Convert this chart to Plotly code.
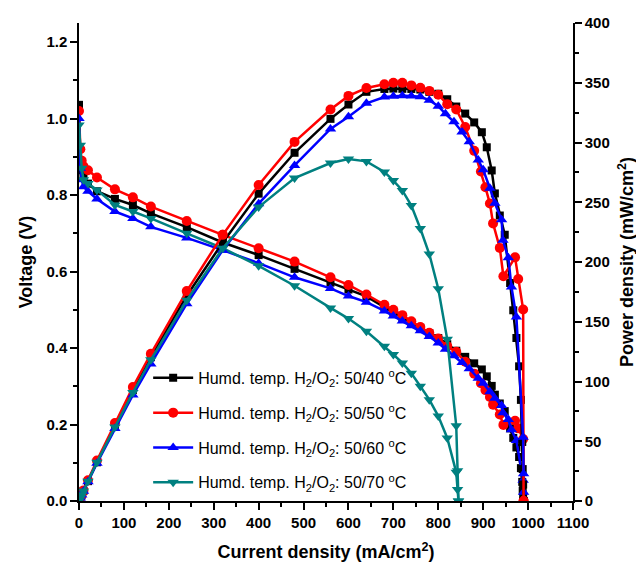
import plotly.graph_objects as go

# ---------------- data ----------------
labels = [
    "Humd. temp. H<sub>2</sub>/O<sub>2</sub>: 50/40 <sup>o</sup>C",
    "Humd. temp. H<sub>2</sub>/O<sub>2</sub>: 50/50 <sup>o</sup>C",
    "Humd. temp. H<sub>2</sub>/O<sub>2</sub>: 50/60 <sup>o</sup>C",
    "Humd. temp. H<sub>2</sub>/O<sub>2</sub>: 50/70 <sup>o</sup>C",
]

# 50/40 (black)
cur_40 = [0, 3, 6, 10, 20, 40, 80, 120, 160, 240, 320, 400, 480, 560, 600, 640, 680, 700, 720, 740,
          760, 780, 800, 820, 840, 860, 880, 897, 908, 919, 926, 937, 948, 960, 967, 974, 980, 984,
          987, 988, 989, 990]
volt_40 = [1.036, 0.88, 0.865, 0.85, 0.83, 0.81, 0.79, 0.774, 0.752, 0.716, 0.676, 0.643, 0.607, 0.571,
           0.553, 0.535, 0.507, 0.493, 0.479, 0.466, 0.453, 0.439, 0.426, 0.41, 0.393, 0.377, 0.36,
           0.344, 0.326, 0.301, 0.278, 0.255, 0.235, 0.19, 0.165, 0.14, 0.115, 0.086, 0.05, 0.027,
           0.014, 0.0]
pow_40 = [0, 2.6, 5.2, 8.5, 16.6, 32.4, 63.2, 92.9, 120.3, 171.8, 216.3, 257.2, 291.4, 319.8, 331.8,
          342.4, 344.8, 345.1, 344.9, 344.8, 344.3, 342.4, 340.8, 336.2, 330.1, 324.2, 316.8, 308.6,
          296.0, 276.6, 257.4, 238.9, 222.8, 182.4, 159.6, 136.4, 112.7, 84.6, 49.4, 26.7, 13.8, 0]

# 50/50 (red)
cur_50 = [0, 3, 6, 10, 20, 40, 80, 120, 160, 240, 320, 400, 480, 560, 600, 640, 680, 700, 720, 740,
          760, 780, 800, 820, 840, 860, 880, 895, 905, 915, 922, 937, 945, 971, 978, 989, 990]
volt_50 = [1.02, 0.92, 0.89, 0.875, 0.865, 0.846, 0.815, 0.794, 0.77, 0.732, 0.696, 0.661, 0.626, 0.585,
           0.565, 0.54, 0.513, 0.50, 0.486, 0.47, 0.455, 0.44, 0.425, 0.405, 0.39, 0.364, 0.333, 0.308,
           0.29, 0.272, 0.252, 0.226, 0.199, 0.21, 0.19, 0.162, 0.0]
pow_50 = [0, 2.8, 5.3, 8.8, 17.3, 33.8, 65.2, 95.3, 123.2, 175.7, 222.7, 264.4, 300.5, 327.6, 339.0,
          345.6, 348.8, 350.0, 349.9, 347.8, 345.8, 343.2, 340.0, 332.1, 327.6, 313.0, 293.0, 275.7,
          262.5, 248.9, 232.3, 211.8, 188.1, 203.9, 185.8, 160.2, 0]

# 50/60 (blue)
cur_60 = [0, 3, 6, 10, 20, 40, 80, 120, 160, 240, 320, 400, 480, 560, 600, 640, 680, 700, 720, 740,
          760, 780, 800, 816, 835, 853, 869, 889, 900, 915, 926, 941, 944, 956, 963, 974, 989, 990]
volt_60 = [1.0, 0.87, 0.84, 0.822, 0.81, 0.79, 0.757, 0.739, 0.717, 0.688, 0.656, 0.622, 0.585, 0.556,
           0.536, 0.52, 0.497, 0.484, 0.471, 0.458, 0.445, 0.43, 0.413, 0.397, 0.38, 0.362, 0.346,
           0.321, 0.308, 0.286, 0.269, 0.25, 0.231, 0.213, 0.186, 0.158, 0.054, 0.023]
pow_60 = [0, 2.6, 5.0, 8.2, 16.2, 31.6, 60.6, 88.7, 114.7, 165.1, 209.9, 248.8, 280.8, 311.4, 321.6,
          332.8, 338.0, 338.8, 339.1, 338.9, 338.2, 335.4, 330.4, 324.0, 317.3, 308.8, 300.7, 285.4,
          277.2, 261.7, 249.1, 235.3, 218.1, 203.6, 179.1, 153.9, 53.4, 22.8]

# 50/70 (teal)
cur_70 = [0, 3, 6, 10, 20, 40, 80, 120, 160, 240, 320, 400, 480, 560, 600, 640, 680, 700, 720, 740,
          760, 780, 800, 820, 840, 843, 845]
volt_70 = [0.983, 0.93, 0.87, 0.84, 0.83, 0.813, 0.774, 0.757, 0.739, 0.70, 0.661, 0.615, 0.563, 0.505,
           0.477, 0.444, 0.405, 0.383, 0.361, 0.334, 0.30, 0.265, 0.222, 0.165, 0.075, 0.03, 0.0]
pow_70 = [0, 2.8, 5.2, 8.4, 16.6, 32.5, 61.9, 90.8, 118.2, 168.0, 211.5, 246.0, 270.2, 282.8, 286.2,
          284.2, 275.4, 268.1, 259.9, 247.2, 228.0, 206.7, 177.6, 135.3, 63.0, 25.3, 0]

x_ticks = list(range(0, 1101, 100))
v_ticks = [0.0, 0.2, 0.4, 0.6, 0.8, 1.0, 1.2]
p_ticks = list(range(0, 401, 50))

# ---------------- styles ----------------
series = [
    (cur_40, volt_40, pow_40, "#000000", "square", 8),
    (cur_50, volt_50, pow_50, "#FF0000", "circle", 10),
    (cur_60, volt_60, pow_60, "#0000FF", "triangle-up", 10),
    (cur_70, volt_70, pow_70, "#008080", "triangle-down", 10),
]

FONT = "Liberation Sans, Arial, sans-serif"

fig = go.Figure()
for i, (c, v, p, col, sym, ms) in enumerate(series):
    fig.add_trace(go.Scatter(
        x=c, y=v, mode="lines+markers", name=labels[i], legendgroup=f"g{i}",
        line=dict(color=col, width=2.5),
        marker=dict(color=col, symbol=sym, size=ms),
        xaxis="x", yaxis="y",
    ))
for i, (c, v, p, col, sym, ms) in enumerate(series):
    fig.add_trace(go.Scatter(
        x=c, y=p, mode="lines+markers", name=labels[i], legendgroup=f"g{i}",
        showlegend=False,
        line=dict(color=col, width=2.5),
        marker=dict(color=col, symbol=sym, size=ms),
        xaxis="x", yaxis="y2",
    ))

tickfont = dict(family=FONT, size=15, color="black", weight="bold")
titlefont = dict(family=FONT, size=18, color="black", weight="bold")

# the page body adds an 8px offset, so the figure is 8px smaller each way
fig.update_layout(
    width=636, height=558,
    margin=dict(l=71, r=71, t=15, b=65),
    paper_bgcolor="white", plot_bgcolor="white",
    xaxis=dict(
        range=[0, 1100], tickvals=x_ticks, ticktext=[str(t) for t in x_ticks],
        ticks="outside", ticklen=7, tickwidth=1.5, tickcolor="black",
        minor=dict(dtick=50, ticks="outside", ticklen=4, tickwidth=1.5, tickcolor="black"),
        showline=True, linewidth=1.5, linecolor="black", showgrid=False, zeroline=False,
        tickfont=tickfont, automargin=False,
        title=dict(text="Current density (mA/cm<sup>2</sup>)", font=titlefont, standoff=16),
    ),
    xaxis2=dict(
        range=[0, 1100], overlaying="x", side="top", anchor="y",
        dtick=50, ticks="inside", ticklen=6, tickwidth=1.5, tickcolor="black",
        showticklabels=False, showline=True, linewidth=1.5, linecolor="black",
        showgrid=False, zeroline=False, automargin=False,
    ),
    yaxis=dict(
        range=[0, 1.25], tickvals=v_ticks, ticktext=[f"{t:.1f}" for t in v_ticks],
        ticks="outside", ticklen=7, tickwidth=1.5, tickcolor="black",
        minor=dict(dtick=0.1, ticks="outside", ticklen=4, tickwidth=1.5, tickcolor="black"),
        showline=True, linewidth=1.5, linecolor="black", showgrid=False, zeroline=False,
        tickfont=tickfont, automargin=False,
        title=dict(text="Voltage (V)", font=titlefont, standoff=9),
    ),
    yaxis2=dict(
        range=[0, 400], overlaying="y", side="right", anchor="x",
        tickvals=p_ticks, ticktext=[str(t) for t in p_ticks],
        ticks="outside", ticklen=7, tickwidth=1.5, tickcolor="black",
        minor=dict(dtick=25, ticks="outside", ticklen=4, tickwidth=1.5, tickcolor="black"),
        showline=True, linewidth=1.5, linecolor="black", showgrid=False, zeroline=False,
        tickfont=tickfont, automargin=False,
        title=dict(text="Power density (mW/cm<sup>2</sup>)", font=titlefont, standoff=12),
    ),
    legend=dict(
        x=0.14, y=0.293, xanchor="left", yanchor="top",
        bgcolor="rgba(0,0,0,0)", borderwidth=0,
        font=dict(family=FONT, size=16, color="black"),
        tracegroupgap=11, itemwidth=40,
    ),
    showlegend=True,
)

fig.write_html("out.html")
